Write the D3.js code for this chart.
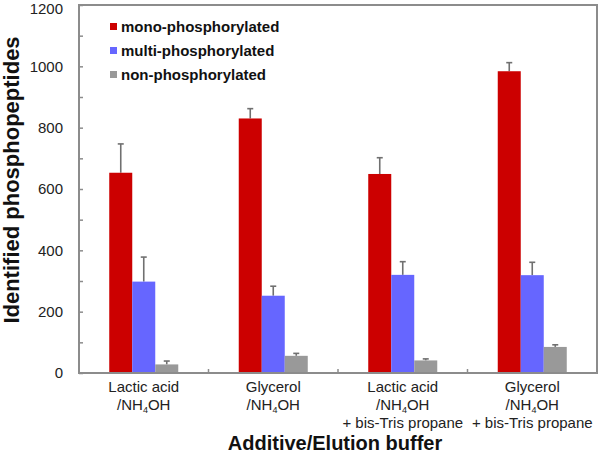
<!DOCTYPE html>
<html>
<head>
<meta charset="utf-8">
<script src="https://cdn.jsdelivr.net/npm/d3@7"></script>
<style>
  html, body { margin: 0; padding: 0; background: #fff; }
  svg { display: block; }
</style>
</head>
<body>
<svg id="chart" width="600" height="456"></svg>
<script>
// ---- data ----
const categories = ["LA", "GL", "LAB", "GLB"];
const categoryLabels = [
  ["Lactic acid", "/NH4OH"],
  ["Glycerol", "/NH4OH"],
  ["Lactic acid", "/NH4OH", "+ bis-Tris propane"],
  ["Glycerol", "/NH4OH", "+ bis-Tris propane"]
];
const seriesNames = ["mono-phosphorylated", "multi-phosphorylated", "non-phosphorylated"];
const seriesColors = ["#cc0000", "#6666ff", "#999999"];
const monoValues = [653, 830, 649, 984];
const monoErrors = [94, 32, 53, 28];
const multiValues = [298, 252, 320, 319];
const multiErrors = [80, 31, 43, 42];
const nonValues = [28, 56, 41, 85];
const nonErrors = [11, 8, 5, 7];
const yTicks = [0, 200, 400, 600, 800, 1000, 1200];
const yMinorTicks = d3.range(0, 1201, 100);

const seriesValues = [monoValues, multiValues, nonValues];
const seriesErrors = [monoErrors, multiErrors, nonErrors];

// ---- layout ----
const svg = d3.select("#chart");
const L = 79, R = 597, T = 5, B = 373;
const font = "Arial, 'Liberation Sans', Helvetica, sans-serif";
const axisColor = "#8c8c8c";

const x0 = d3.scaleBand().domain(categories).range([L, R]).padding(0);
const x1 = d3.scaleBand().domain(seriesNames).range([0, x0.bandwidth()])
  .paddingInner(0).paddingOuter(1.315);
const y = d3.scaleLinear().domain([0, 1200]).range([B, T]);

const rows = [];
categories.forEach((c, i) => {
  seriesNames.forEach((s, j) => {
    rows.push({ cat: c, ser: s, v: seriesValues[j][i], e: seriesErrors[j][i], color: seriesColors[j] });
  });
});

// error bars
const eg = svg.append("g");
rows.forEach(d => {
  const cx = x0(d.cat) + x1(d.ser) + x1.bandwidth() / 2;
  eg.append("line").attr("x1", cx).attr("x2", cx)
    .attr("y1", y(d.v)).attr("y2", y(d.v + d.e))
    .attr("stroke", "#707070").attr("stroke-width", 1.6);
  eg.append("line").attr("x1", cx - 3).attr("x2", cx + 3)
    .attr("y1", y(d.v + d.e)).attr("y2", y(d.v + d.e))
    .attr("stroke", "#707070").attr("stroke-width", 1.6);
});

// bars
svg.append("g").selectAll("rect").data(rows).join("rect")
  .attr("x", d => x0(d.cat) + x1(d.ser))
  .attr("y", d => y(d.v))
  .attr("width", x1.bandwidth())
  .attr("height", d => y(0) - y(d.v))
  .attr("fill", d => d.color);

// frame
svg.append("rect").attr("x", L).attr("y", T).attr("width", R - L).attr("height", B - T)
  .attr("fill", "none").attr("stroke", axisColor).attr("stroke-width", 2);

// y axis
const yAxis = d3.axisLeft(y).tickValues(yMinorTicks).tickSizeInner(-4).tickSizeOuter(0).tickPadding(16)
  .tickFormat(d => yTicks.includes(d) ? d : "");
const ya = svg.append("g").attr("transform", `translate(${L},0)`).call(yAxis);
ya.select(".domain").remove();
ya.selectAll(".tick line").attr("stroke", axisColor).attr("stroke-width", 1.5);
ya.selectAll(".tick text").attr("font-family", font).attr("font-size", 15).attr("fill", "#222");
ya.selectAll(".tick").filter(d => d === 1200).select("text").attr("y", 4);

// x boundary ticks
categories.slice(1).forEach(c => {
  svg.append("line").attr("x1", x0(c)).attr("x2", x0(c)).attr("y1", B).attr("y2", B - 4)
    .attr("stroke", axisColor).attr("stroke-width", 1.5);
});

// x labels
categories.forEach((c, i) => {
  const cx = x0(c) + x0.bandwidth() / 2;
  categoryLabels[i].forEach((line, k) => {
    const t = svg.append("text").attr("x", cx).attr("y", 392 + k * 18)
      .attr("text-anchor", "middle").attr("font-family", font).attr("font-size", 15).attr("fill", "#222");
    const m = line.match(/^(.*NH)4(OH.*)$/);
    if (m) {
      t.append("tspan").text(m[1]);
      t.append("tspan").attr("font-size", 9).attr("dy", 3).text("4");
      t.append("tspan").attr("dy", -3).text(m[2]);
    } else {
      t.text(line);
    }
  });
});

// axis titles
svg.append("text").attr("x", 335).attr("y", 450).attr("text-anchor", "middle")
  .attr("font-family", font).attr("font-weight", "bold").attr("font-size", 20).attr("fill", "#111")
  .text("Additive/Elution buffer");
svg.append("text").attr("transform", "translate(19,180) rotate(-90)").attr("text-anchor", "middle")
  .attr("font-family", font).attr("font-weight", "bold").attr("font-size", 22).attr("fill", "#111")
  .text("Identified phosphopeptides");

// legend
const lg = svg.append("g");
seriesNames.forEach((s, j) => {
  const cy = 26.5 + j * 24;
  lg.append("rect").attr("x", 110).attr("y", cy - 3.5).attr("width", 7).attr("height", 7).attr("fill", seriesColors[j]);
  lg.append("text").attr("x", 121).attr("y", cy + 5).attr("font-family", font).attr("font-weight", "bold")
    .attr("font-size", 15).attr("fill", "#111").text(s);
});
</script>
</body>
</html>
